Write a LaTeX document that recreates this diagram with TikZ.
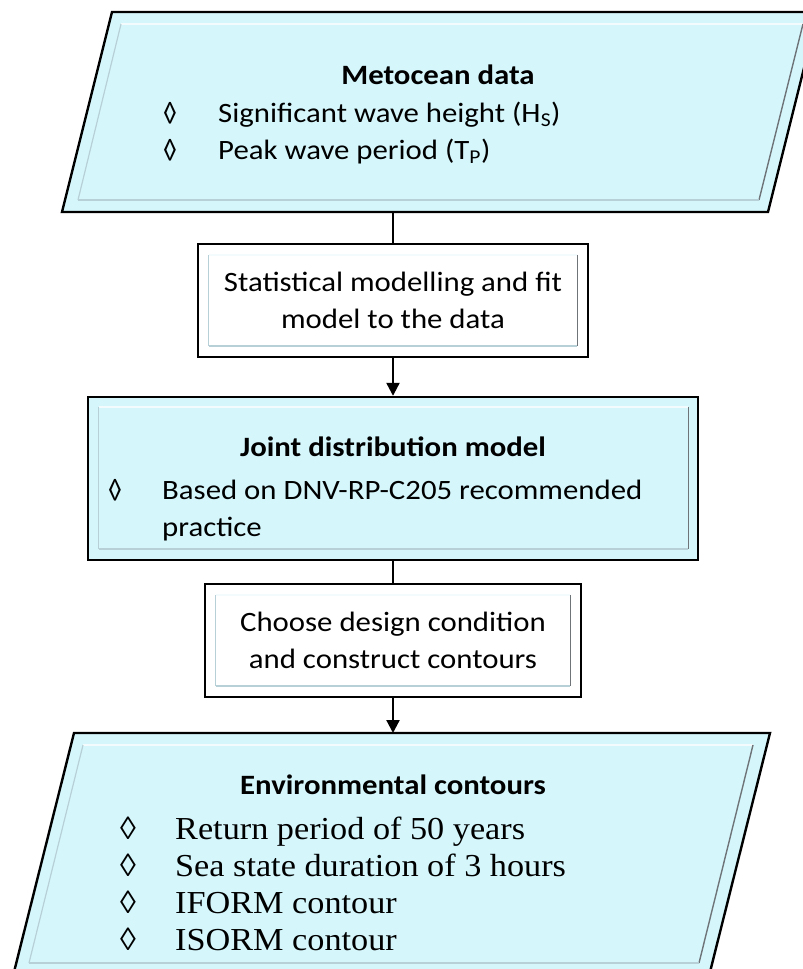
\documentclass[tikz,border=0pt]{standalone}
\usepackage{fontspec}
\setmainfont{Carlito}
\newfontfamily\itemserif{Liberation Serif}
\usetikzlibrary{arrows.meta,positioning}
\definecolor{sea}{HTML}{D5F7FC}
\definecolor{bevhi}{HTML}{F4FBFD}
\definecolor{bevmid}{HTML}{B7CFD6}
\definecolor{bevlo}{HTML}{6E7478}
% text in the figure is set a little wide
\newcommand{\wide}[1]{\scalebox{1.1}[1]{#1}}
% inner bevel of a box: top, right, bottom, left corners
\newcommand{\bevel}[4]{%
  \draw[line width=1.4pt,bevhi] #1 -- #2;
  \draw[line width=1.4pt,bevlo] #2 -- #3;
  \draw[line width=1.6pt,bevmid] #3 -- #4;
  \draw[line width=1.2pt,bevmid] #4 -- #1;}

\begin{document}
\begin{tikzpicture}[x=1pt,y=-1pt,
    frame/.style={draw=black,line width=2.4pt},
    procbox/.style={frame,fill=white,inner sep=0pt,align=center,
      font=\fontsize{28}{37}\selectfont},
    txt/.style={inner sep=0pt,font=\fontsize{28}{32}\selectfont},
    head/.style={inner sep=0pt,font=\fontsize{28}{32}\selectfont\bfseries},
    sitem/.style={inner sep=0pt,font=\fontsize{32}{36}\itemserif},
    flow/.style={line width=2.2pt},
    flowarrow/.style={flow,-{Triangle[length=13pt,width=13pt]}}]
  \useasboundingbox (0,0) rectangle (803,969);
  \clip (0,0) rectangle (803,969);

  % metocean data (input)
  \filldraw[frame,fill=sea] (112,12) -- (818,12) -- (768,212) -- (62,212) -- cycle;
  \bevel{(121,24)}{(803,24)}{(759,200)}{(78,200)}
  \coordinate (meto-s) at (393,212);
  \node[head] (meto-t) at (438,75) {\wide{Metocean data}};
  \foreach \t [count=\i] in {Significant wave height (H\textsubscript{S}),
                             Peak wave period (T\textsubscript{P})} {
    \node[txt] (meto-d\i) at (170,{76+37*\i}) {◊};
    \node[txt,anchor=base west] (meto-i\i) at (218,{85+37*\i}) {\wide{\t}};
  }

  % statistical fit
  \node[procbox,minimum width=390pt,minimum height=113pt] (fit) at (393,300.5)
    {\wide{Statistical modelling and fit}\\\wide{model to the data}};
  \bevel{([shift={(12,12)}]fit.north west)}{([shift={(-12,12)}]fit.north east)}
        {([shift={(-12,-12)}]fit.south east)}{([shift={(12,-12)}]fit.south west)}

  % joint model
  \node[procbox,fill=sea,minimum width=610pt,minimum height=163pt] (jdm) at (393,478.5) {};
  \bevel{([shift={(12,11)}]jdm.north west)}{([shift={(-11,11)}]jdm.north east)}
        {([shift={(-11,-12)}]jdm.south east)}{([shift={(12,-12)}]jdm.south west)}
  \node[head] (jdm-t) at (393,447) {\wide{Joint distribution model}};
  \node[txt] (jdm-d) at (115,490) {◊};
  \node[txt,anchor=base west] (jdm-i1) at (162,499) {\wide{Based on DNV-RP-C205 recommended}};
  \node[txt,anchor=base west] (jdm-i2) at (162,536) {\wide{practice}};

  % design condition
  \node[procbox,minimum width=376pt,minimum height=113pt] (dsg) at (393,640.5)
    {\wide{Choose design condition}\\\wide{and construct contours}};
  \bevel{([shift={(12,12)}]dsg.north west)}{([shift={(-12,12)}]dsg.north east)}
        {([shift={(-12,-12)}]dsg.south east)}{([shift={(12,-12)}]dsg.south west)}

  % environmental contours (output)
  \filldraw[frame,fill=sea] (74,733) -- (770,733) -- (709,976) -- (13,976) -- cycle;
  \bevel{(83,745)}{(753,745)}{(699,963)}{(29,963)}
  \coordinate (env-n) at (393,733);
  \node[head] (env-t) at (393,785) {\wide{Environmental contours}};
  \foreach \t [count=\i] in {Return period of 50 years, Sea state duration of 3 hours,
                             IFORM contour, ISORM contour} {
    \node[sitem] (env-d\i) at (128,{791+37*\i}) {◊};
    \node[sitem,anchor=base west] (env-i\i) at (175,{802+37*\i}) {\scalebox{1.07}[1]{\t}};
  }

  % connectors
  \draw[flow] (meto-s) -- (fit.north);
  \draw[flowarrow] (fit.south) -- (jdm.north);
  \draw[flow] (jdm.south) -- (dsg.north);
  \draw[flowarrow] (dsg.south) -- (env-n);
\end{tikzpicture}
\end{document}
